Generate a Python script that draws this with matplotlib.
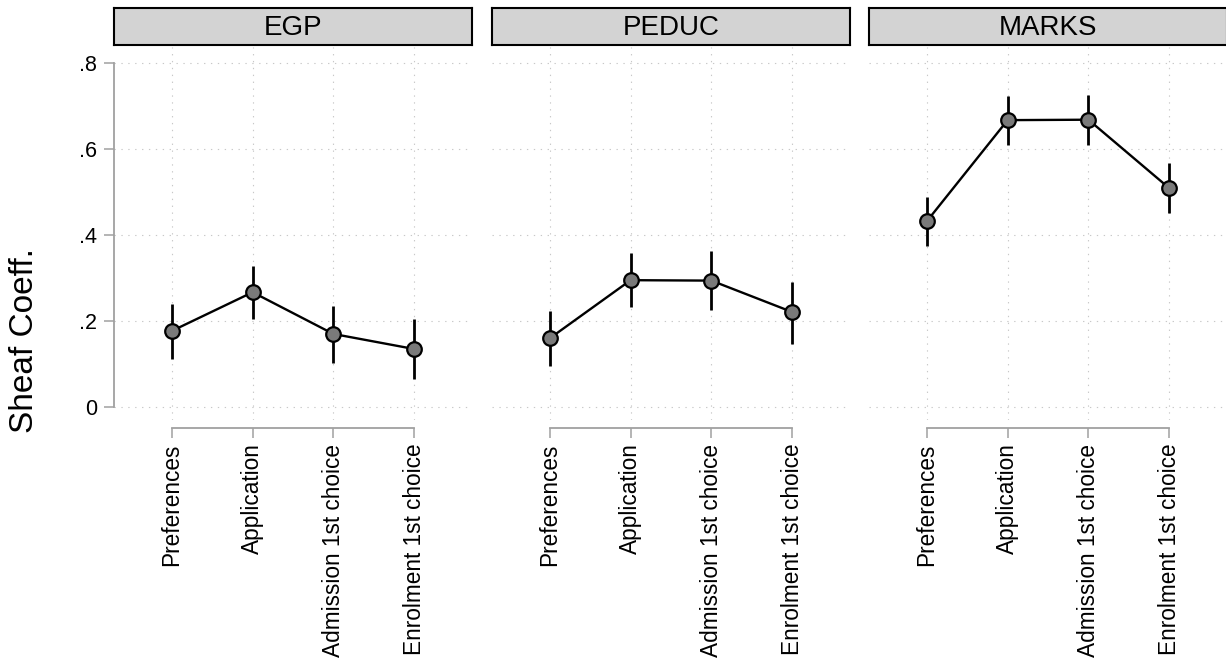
import matplotlib
matplotlib.use('Agg')
import matplotlib.pyplot as plt

plt.rcParams['font.family'] = ['Liberation Sans', 'DejaVu Sans']

# data
panels = ['EGP', 'PEDUC', 'MARKS']
stages = ['Preferences', 'Application', 'Admission 1st choice', 'Enrolment 1st choice']

egp = [0.177, 0.267, 0.170, 0.135]
egp_lo = [0.112, 0.205, 0.102, 0.065]
egp_hi = [0.240, 0.328, 0.235, 0.205]

peduc = [0.160, 0.295, 0.294, 0.221]
peduc_lo = [0.095, 0.233, 0.226, 0.147]
peduc_hi = [0.223, 0.358, 0.363, 0.291]

marks = [0.432, 0.667, 0.668, 0.509]
marks_lo = [0.374, 0.609, 0.609, 0.451]
marks_hi = [0.489, 0.723, 0.726, 0.567]

yticks = [0, 0.2, 0.4, 0.6, 0.8]
ytick_labels = ['0', '.2', '.4', '.6', '.8']

W, H = 1226, 660
fig = plt.figure(figsize=(W / 100, H / 100), dpi=100)

lefts = [114, 492, 869]
pw = 358
top, bottom = 47, 420
strip_top, strip_bot = 8, 45

series = [(egp, egp_lo, egp_hi), (peduc, peduc_lo, peduc_hi), (marks, marks_lo, marks_hi)]
x = [1, 2, 3, 4]
grid_col = '#c8c8c8'
axis_col = '#a0a0a0'

for i, (name, (est, lo, hi)) in enumerate(zip(panels, series)):
    l = lefts[i]
    ax = fig.add_axes([l / W, 1 - bottom / H, pw / W, (bottom - top) / H])
    ax.set_xlim(0.284, 4.716)
    ax.set_ylim(-0.03, 0.837)

    # dotted grid
    for yt in yticks:
        ax.axhline(yt, color=grid_col, lw=0.8, ls=(0, (1.2, 5)), zorder=0)
    for xt in x:
        ax.axvline(xt, color=grid_col, lw=0.8, ls=(0, (1.2, 5)), zorder=0)

    err = [[e - a for e, a in zip(est, lo)], [b - e for e, b in zip(est, hi)]]
    ax.errorbar(x, est, yerr=err, fmt='none', ecolor='black', elinewidth=2, capsize=0, zorder=2)
    ax.plot(x, est, color='black', lw=1.7, zorder=3)
    ax.plot(x, est, 'o', ms=10.5, mfc='#7a7a7a', mec='black', mew=1.6, zorder=4)

    for s in ['top', 'right']:
        ax.spines[s].set_visible(False)
    ax.spines['bottom'].set_position(('outward', 6))
    ax.spines['bottom'].set_bounds(1, 4)
    ax.spines['bottom'].set_color(axis_col)
    ax.spines['bottom'].set_linewidth(1.3)
    ax.set_xticks(x)
    ax.set_xticklabels(stages, rotation=90, fontsize=16.3)
    ax.tick_params(axis='x', direction='out', length=7, width=1.1, color=axis_col, pad=4)

    if i == 0:
        ax.spines['left'].set_bounds(0, 0.8)
        ax.spines['left'].set_color(axis_col)
        ax.spines['left'].set_linewidth(1.3)
        ax.set_yticks(yticks)
        ax.set_yticklabels(ytick_labels, fontsize=15.5)
        ax.tick_params(axis='y', direction='out', length=7, width=1.1, color=axis_col, pad=5)
    else:
        ax.spines['left'].set_visible(False)
        ax.set_yticks([])

    # strip header
    sax = fig.add_axes([l / W, 1 - strip_bot / H, pw / W, (strip_bot - strip_top) / H])
    sax.set_facecolor('#d3d3d3')
    sax.set_xticks([])
    sax.set_yticks([])
    for s in sax.spines.values():
        s.set_color('black')
        s.set_linewidth(1.5)
    sax.text(0.5, 0.45, name, ha='center', va='center', fontsize=20, transform=sax.transAxes)

fig.text(25 / W, 1 - 341 / H, 'Sheaf Coeff.', rotation=90, ha='center', va='center', fontsize=24)

fig.savefig('out.png', dpi=100)
